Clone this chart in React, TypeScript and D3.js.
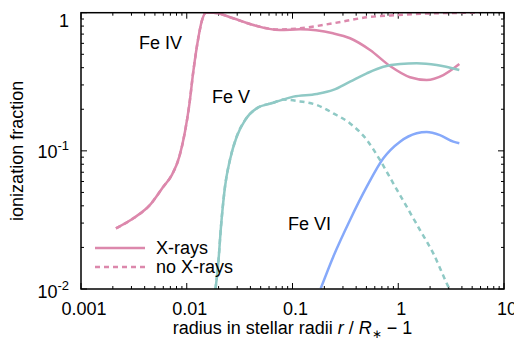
import * as d3 from "d3";

// Fe IV, with and without X-rays
const feIVx = [0.00214, 0.00313, 0.00449, 0.006, 0.00722, 0.00851, 0.00962, 0.01057, 0.01153, 0.01285, 0.01383, 0.0152, 0.0178, 0.0275, 0.0396, 0.0762, 0.1178, 0.2415, 0.35, 0.541, 0.836, 1.291, 1.858, 2.667, 3.78];
const feIVy = [0.0275, 0.0325, 0.0406, 0.055, 0.0668, 0.0907, 0.1377, 0.215, 0.374, 0.653, 0.861, 1.0, 1.0, 0.911, 0.828, 0.749, 0.758, 0.709, 0.653, 0.537, 0.411, 0.341, 0.326, 0.354, 0.425];
const feIVnoX = [0.00214, 0.00313, 0.00449, 0.006, 0.00722, 0.00851, 0.00962, 0.01057, 0.01153, 0.01285, 0.01383, 0.0152, 0.0178, 0.0275, 0.0396, 0.0762, 0.1178, 0.2415, 0.504, 0.966, 2.13, 5.9];
const feIVnoY = [0.0275, 0.0325, 0.0406, 0.055, 0.0668, 0.0907, 0.1377, 0.215, 0.374, 0.653, 0.861, 1.0, 1.0, 0.911, 0.828, 0.755, 0.771, 0.838, 0.926, 0.962, 0.99, 1.0];

// Fe V
const feVx = [0.0187, 0.01986, 0.0211, 0.023, 0.0256, 0.02965, 0.0356, 0.0458, 0.0658, 0.102, 0.1694, 0.243, 0.35, 0.504, 0.723, 1.04, 1.494, 2.31, 3.78];
const feVy = [0.01, 0.01535, 0.0286, 0.055, 0.0859, 0.1265, 0.167, 0.203, 0.223, 0.247, 0.258, 0.276, 0.317, 0.364, 0.406, 0.425, 0.43, 0.418, 0.385];
const feVnoX = [0.0187, 0.01986, 0.0211, 0.023, 0.0256, 0.02965, 0.0356, 0.0458, 0.0658, 0.0818, 0.1178, 0.1694, 0.243, 0.35, 0.504, 0.671, 0.897, 1.202, 1.606, 2.145, 2.87, 3.08];
const feVnoY = [0.01, 0.01535, 0.0286, 0.055, 0.0859, 0.1265, 0.167, 0.203, 0.223, 0.235, 0.228, 0.215, 0.187, 0.158, 0.12, 0.0859, 0.0582, 0.0394, 0.0267, 0.0181, 0.011, 0.0098];

// Fe VI
const feVIx = [0.185, 0.243, 0.35, 0.504, 0.723, 1.04, 1.494, 1.858, 2.48, 3.32, 3.78];
const feVIy = [0.0101, 0.01714, 0.0316, 0.055, 0.0883, 0.1165, 0.134, 0.137, 0.13, 0.1165, 0.1135];

const xTicks = [0.001, 0.01, 0.1, 1, 10];
const xTickLabels = ["0.001", "0.01", "0.1", "1", "10"];
const yTicks = [1, 0.1, 0.01];
const yTickExp = ["", "-1", "-2"];

const PINK = "#dc88ac";
const TEAL = "#8fc9c5";
const BLUE = "#86a9fa";

const W = 514;
const H = 347;
const m = { left: 81, right: 10, top: 12.7, bottom: 58 };

export default function App() {
  const x = d3.scaleLog().domain([0.001, 10]).range([m.left, W - m.right]);
  const y = d3.scaleLog().domain([0.01, 1]).range([H - m.bottom, m.top]);

  const line = d3
    .line<[number, number]>()
    .x((d) => x(d[0]))
    .y((d) => y(d[1]))
    .curve(d3.curveMonotoneX);
  const path = (xs: number[], ys: number[]) =>
    line(xs.map((v, i) => [v, ys[i]] as [number, number])) || "";

  const minorX: number[] = [];
  for (let e = -3; e < 1; e++)
    for (let k = 2; k <= 9; k++) minorX.push(k * Math.pow(10, e));
  const minorY: number[] = [];
  for (let e = -2; e < 0; e++)
    for (let k = 2; k <= 9; k++) minorY.push(k * Math.pow(10, e));

  const x0 = m.left, x1 = W - m.right, y0 = m.top, y1 = H - m.bottom;
  const font = "'Liberation Sans', Arial, sans-serif";
  const yLabelBase = [26.5, 158, 298];

  return (
    <svg
      width={W}
      height={H}
      style={{ position: "absolute", left: 0, top: 0, background: "#fff" }}
      fontFamily={font}
      fontSize={18}
    >
      <defs>
        <clipPath id="plot">
          <rect x={x0} y={y0} width={x1 - x0} height={y1 - y0} />
        </clipPath>
      </defs>

      {/* ticks, mirrored on all four sides */}
      <g stroke="#000" strokeWidth={1}>
        {xTicks.map((t) => (
          <g key={"xt" + t}>
            <line x1={x(t)} x2={x(t)} y1={y1} y2={y1 - 6} />
            <line x1={x(t)} x2={x(t)} y1={y0} y2={y0 + 6} />
          </g>
        ))}
        {minorX.map((t) => (
          <g key={"xm" + t}>
            <line x1={x(t)} x2={x(t)} y1={y1} y2={y1 - 3} />
            <line x1={x(t)} x2={x(t)} y1={y0} y2={y0 + 3} />
          </g>
        ))}
        {yTicks.map((t) => (
          <g key={"yt" + t}>
            <line x1={x0} x2={x0 + 6} y1={y(t)} y2={y(t)} />
            <line x1={x1} x2={x1 - 6} y1={y(t)} y2={y(t)} />
          </g>
        ))}
        {minorY.map((t) => (
          <g key={"ym" + t}>
            <line x1={x0} x2={x0 + 3} y1={y(t)} y2={y(t)} />
            <line x1={x1} x2={x1 - 3} y1={y(t)} y2={y(t)} />
          </g>
        ))}
      </g>

      <g clipPath="url(#plot)" fill="none" strokeWidth={2.5}>
        <path d={path(feIVnoX, feIVnoY)} stroke={PINK} strokeDasharray="5,4" />
        <path d={path(feVnoX, feVnoY)} stroke={TEAL} strokeDasharray="5,4" />
        <path d={path(feIVx, feIVy)} stroke={PINK} />
        <path d={path(feVx, feVy)} stroke={TEAL} />
        <path d={path(feVIx, feVIy)} stroke={BLUE} />
      </g>

      <rect x={x0} y={y0} width={x1 - x0} height={y1 - y0} fill="none" stroke="#000" strokeWidth={1.5} />

      {/* tick labels */}
      {xTicks.map((t, i) => (
        <text key={"xl" + t} x={x(t) + 3} y={315} textAnchor="middle">
          {xTickLabels[i]}
        </text>
      ))}
      {yTicks.map((t, i) => (
        <text key={"yl" + t} x={69} y={yLabelBase[i]} textAnchor="end">
          {yTickExp[i] === "" ? (
            "1"
          ) : (
            <>
              10
              <tspan dy={-8} fontSize={13}>
                {yTickExp[i]}
              </tspan>
            </>
          )}
        </text>
      ))}

      {/* axis titles */}
      <text x={(x0 + x1) / 2} y={334} textAnchor="middle">
        radius in stellar radii <tspan fontStyle="italic">r</tspan> /{" "}
        <tspan fontStyle="italic">R</tspan>
        <tspan fontSize={12} dy={4}>∗</tspan>
        <tspan dy={-4}> − 1</tspan>
      </text>
      <text transform={`translate(23,${(y0 + y1) / 2}) rotate(-90)`} textAnchor="middle">
        ionization fraction
      </text>

      {/* ion labels */}
      <text x={139} y={49}>Fe IV</text>
      <text x={212} y={102.7}>Fe V</text>
      <text x={288} y={230}>Fe VI</text>

      {/* legend */}
      <line x1={95} x2={145} y1={248} y2={248} stroke={PINK} strokeWidth={2.5} />
      <text x={156} y={254}>X-rays</text>
      <line x1={95} x2={145} y1={267} y2={267} stroke={PINK} strokeWidth={2.5} strokeDasharray="5,4" />
      <text x={156} y={273}>no X-rays</text>
    </svg>
  );
}
